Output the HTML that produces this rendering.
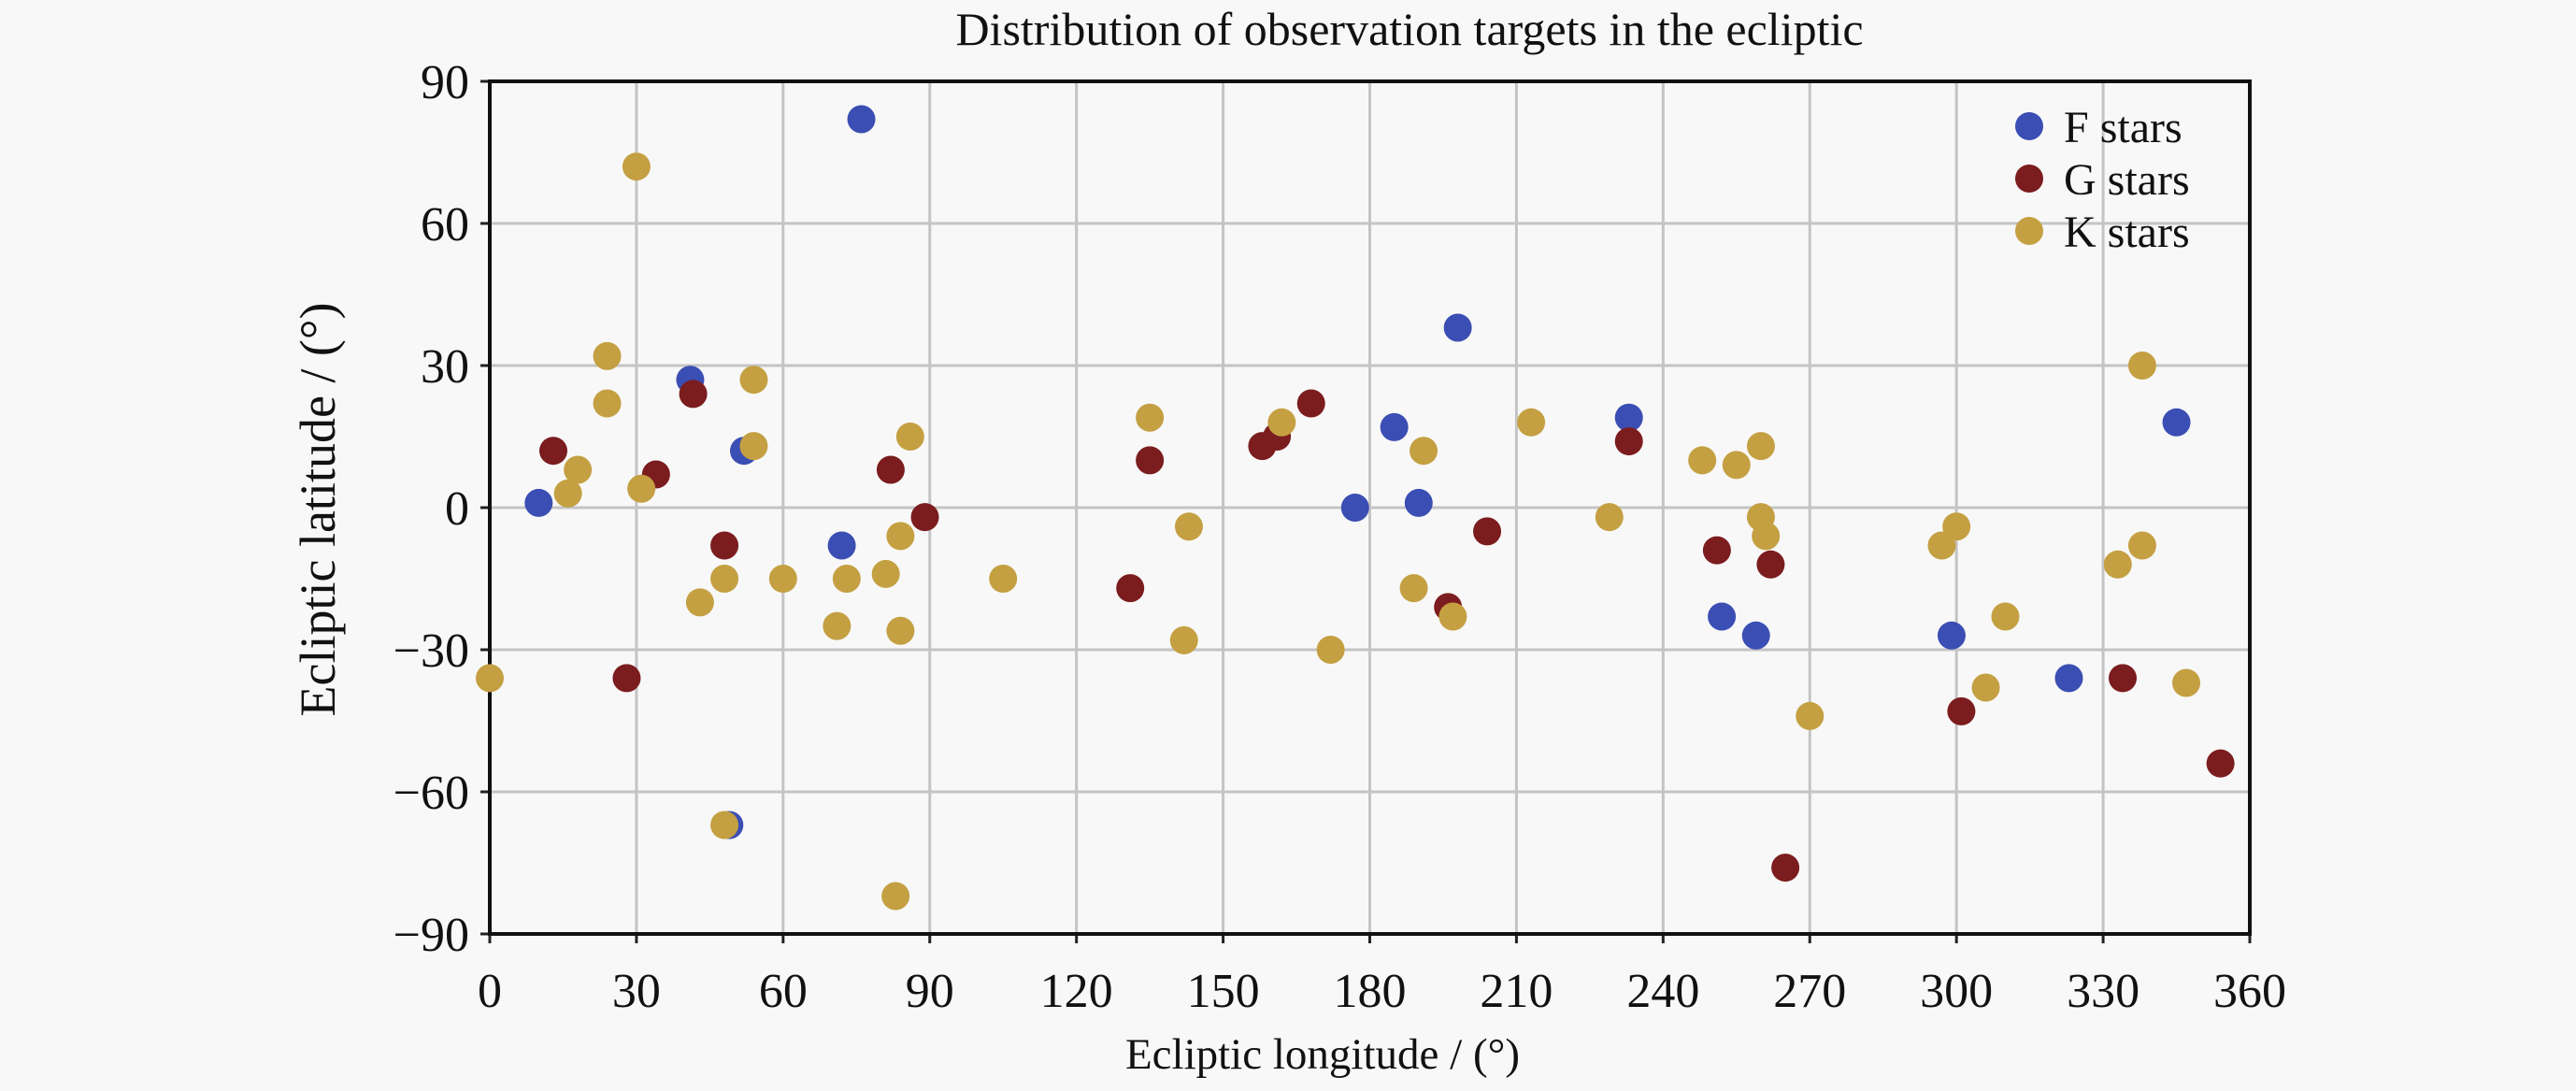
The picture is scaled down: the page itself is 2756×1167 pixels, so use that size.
<!DOCTYPE html>
<html><head><meta charset="utf-8"><style>
html,body{margin:0;padding:0;background:#f8f8f8;}
svg{display:block;font-family:"Liberation Serif",serif;}
</style></head><body>
<svg id="chart" width="2756" height="1167" viewBox="0 0 2756 1167">
<rect width="2756" height="1167" fill="#f8f8f8"/>
<text x="1508" y="48" font-size="50" text-anchor="middle" fill="#111">Distribution of observation targets in the ecliptic</text>
<g id="grid"></g><g id="axes"></g><g id="points"></g><g id="legend"></g>
<text x="1415" y="1143" font-size="47" text-anchor="middle" fill="#111">Ecliptic longitude / (°)</text>
<text transform="translate(358,545) rotate(-90)" font-size="54" text-anchor="middle" fill="#111">Ecliptic latitude / (°)</text>
</svg>
<script>
const xTicks=[0,30,60,90,120,150,180,210,240,270,300,330,360];
const yTicks=[90,60,30,0,-30,-60,-90];
const fLon=[76,10,41,52,72,49,198,185,177,190,233,252,259,299,323,345];
const fLat=[82,1,27,12,-8,-67,38,17,0,1,19,-23,-27,-27,-36,18];
const gLon=[13,34,41.6,28,48,82,89,135,131,158,161,168,196,204,233,251,262,265,301,334,354];
const gLat=[12,7,24,-36,-8,8,-2,10,-17,13,15,22,-21,-5,14,-9,-12,-76,-43,-36,-54];
const kLon=[0,16,18,24,24,30,31,43,48,48,54,54,60,71,73,81,84,84,83,86,105,135,143,142,162,172,189,191,197,213,229,248,255,260,260,261,270,297,300,306,310,333,338,338,347];
const kLat=[-36,3,8,22,32,72,4,-20,-15,-67,27,13,-15,-25,-15,-14,-6,-26,-82,15,-15,19,-4,-28,18,-30,-17,12,-23,18,-2,10,9,13,-2,-6,-44,-8,-4,-38,-23,-12,30,-8,-37];
const series=[
 {name:'F stars',lon:fLon,lat:fLat,color:'#3b4eb3',key:'f'},
 {name:'G stars',lon:gLon,lat:gLat,color:'#7b1c1e',key:'g'},
 {name:'K stars',lon:kLon,lat:kLat,color:'#c4a042',key:'k'}];
const X0=524,X1=2407,Y0=87,Y1=999;
const sx=v=>X0+(v-0)/360*(X1-X0);
const sy=v=>Y0+(90-v)/180*(Y1-Y0);
const NS='http://www.w3.org/2000/svg';
function mk(t,a,p){const e=document.createElementNS(NS,t);for(const k in a)e.setAttribute(k,a[k]);p.appendChild(e);return e;}
const grid=document.getElementById('grid'),axes=document.getElementById('axes'),pts=document.getElementById('points'),leg=document.getElementById('legend');
xTicks.forEach(t=>{
 const l=mk('line',{x1:sx(t),x2:sx(t),y1:Y0,y2:Y1,stroke:'#c4c4c4','stroke-width':3},grid);
 
 
 const tk=mk('line',{x1:sx(t),x2:sx(t),y1:Y1,y2:Y1+10,stroke:'#222','stroke-width':3},axes);
 
 
 const tx=mk('text',{x:sx(t),y:Y1+78,'font-size':52,'text-anchor':'middle',fill:'#111'},axes);
 tx.textContent=t;
 
 
});
yTicks.forEach(t=>{
 const l=mk('line',{x1:X0,x2:X1,y1:sy(t),y2:sy(t),stroke:'#c4c4c4','stroke-width':3},grid);
 
 
 const tk=mk('line',{x1:X0-10,x2:X0,y1:sy(t),y2:sy(t),stroke:'#222','stroke-width':3},axes);
 
 
 const tx=mk('text',{x:X0-22,y:sy(t)+18,'font-size':52,'text-anchor':'end',fill:'#111'},axes);
 tx.textContent=t<0?'\u2212'+(-t):t;
 
 
});
const fr=mk('rect',{x:X0,y:Y0,width:X1-X0,height:Y1-Y0,fill:'none',stroke:'#111','stroke-width':4},axes);


series.forEach((s,si)=>{
 s.lon.forEach((v,i)=>{
  const c=mk('circle',{cx:sx(v),cy:sy(s.lat[i]),r:15,fill:s.color},pts);
  
  
 });
 const ly=135+si*56;
 const lc=mk('circle',{cx:2171,cy:ly,r:15,fill:s.color},leg);
 
 
 const lt=mk('text',{x:2208,y:ly+17,'font-size':48,fill:'#111'},leg);
 lt.textContent=s.name;
 
 
});
</script>
</body></html>
